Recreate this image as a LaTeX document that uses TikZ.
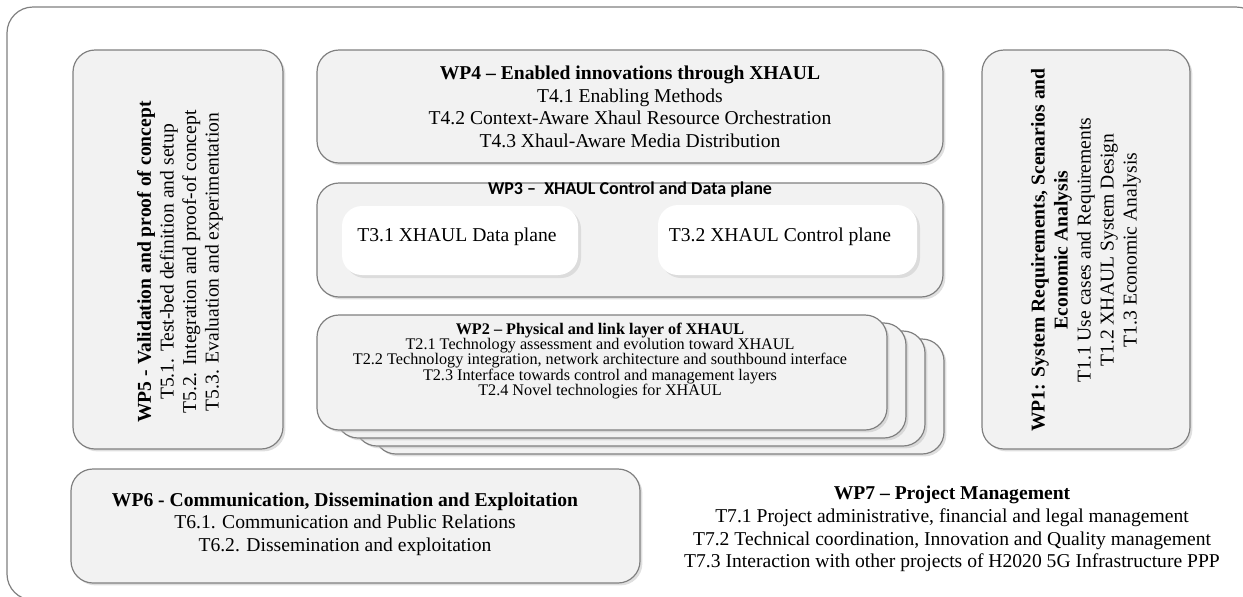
\documentclass[tikz,border=0pt]{standalone}
\usepackage{fontspec}
\setmainfont{Liberation Serif}
\newfontfamily\calibri{Carlito}
\usetikzlibrary{shadows}

\definecolor{boxfill}{HTML}{F2F2F2}
\definecolor{boxline}{HTML}{808080}
\definecolor{softshadow}{HTML}{DCDCDC}

\tikzset{
  wpbox/.style={draw=boxline, fill=boxfill, line width=0.6pt, rounded corners=11pt,
    drop shadow={shadow xshift=1.2pt, shadow yshift=-1.2pt, fill=black!25, opacity=0.5}},
  taskbox/.style={fill=white, rounded corners=10pt},
  taskshadow/.style={fill=softshadow, rounded corners=10pt},
  wptext/.style={align=center, inner sep=0pt, font=\fontsize{9.8}{11.3}\selectfont},
  wpsmall/.style={align=center, inner sep=0pt, font=\fontsize{8.1}{7.6}\selectfont},
}

\begin{document}
\begin{tikzpicture}[x=0.5pt, y=-0.5pt]
\useasboundingbox (0,0) rectangle (1243,596);
\clip (0,0) rectangle (1243,596);

% 外框
\draw[boxline, line width=0.6pt, rounded corners=13pt] (7,7) rectangle (1262,600);

% WP4
\draw[wpbox] (317,50) rectangle (943,163);
\node[wptext] (wp4) at (630,107) {\textbf{WP4 – Enabled innovations through XHAUL}\\
  T4.1 Enabling Methods\\
  T4.2 Context-Aware Xhaul Resource Orchestration\\
  T4.3 Xhaul-Aware Media Distribution};

% WP3 及其两个任务
\draw[wpbox] (317,183) rectangle (943,297);
\node[inner sep=0pt, font=\calibri\bfseries\fontsize{9}{10}\selectfont] (wp3) at (630,190) {WP3 –\ \ XHAUL Control and Data plane};
\fill[taskshadow] (345,209) rectangle (581,278);
\fill[taskbox] (342,206) rectangle (578,275);
\node[wptext] (t31) at (457,237) {T3.1 XHAUL Data plane};
\fill[taskshadow] (661,208) rectangle (920,278);
\fill[taskbox] (658,205) rectangle (917,275);
\node[wptext] (t32) at (780,237) {T3.2 XHAUL Control plane};

% WP2 (层叠)
\foreach \k in {3,2,1}
\draw[wpbox] (317+19*\k,315+8*\k) rectangle (887+19*\k,430+8*\k);
\draw[wpbox] (317,315) rectangle (887,430);
\node[wpsmall] (wp2) at (600,361) {\textbf{WP2 – Physical and link layer of XHAUL}\\
  T2.1 Technology assessment and evolution toward XHAUL\\
  T2.2 Technology integration, network architecture and southbound interface\\
  T2.3 Interface towards control and management layers\\
  T2.4 Novel technologies for XHAUL};

% WP5 (竖排)
\draw[wpbox] (73,50) rectangle (283,449);
\node[wptext, rotate=90] (wp5) at (180,262) {\textbf{WP5 - Validation and proof of concept}\\
  T5.1. Test-bed definition and setup\\
  T5.2. Integration and proof-of concept\\
  T5.3. Evaluation and experimentation};

% WP1 (竖排)
\draw[wpbox] (982,50) rectangle (1190,449);
\node[wptext, rotate=90, font=\fontsize{9.8}{11.5}\selectfont] (wp1) at (1086,250) {\textbf{WP1: System Requirements, Scenarios and}\\
  \textbf{Economic Analysis}\\
  T1.1 Use cases and Requirements\\
  T1.2 XHAUL System Design\\
  T1.3 Economic Analysis};

% WP6
\draw[wpbox] (71,469) rectangle (640,583);
\node[wptext] (wp6) at (345,524) {\textbf{WP6 - Communication, Dissemination and Exploitation}\\
  T6.1. Communication and Public Relations\\
  T6.2. Dissemination and exploitation};

% WP7 (无框)
\node[wptext] (wp7) at (952,529) {\textbf{WP7 – Project Management}\\
  T7.1 Project administrative, financial and legal management\\
  T7.2 Technical coordination, Innovation and Quality management\\
  T7.3 Interaction with other projects of H2020 5G Infrastructure PPP};
\end{tikzpicture}
\end{document}
